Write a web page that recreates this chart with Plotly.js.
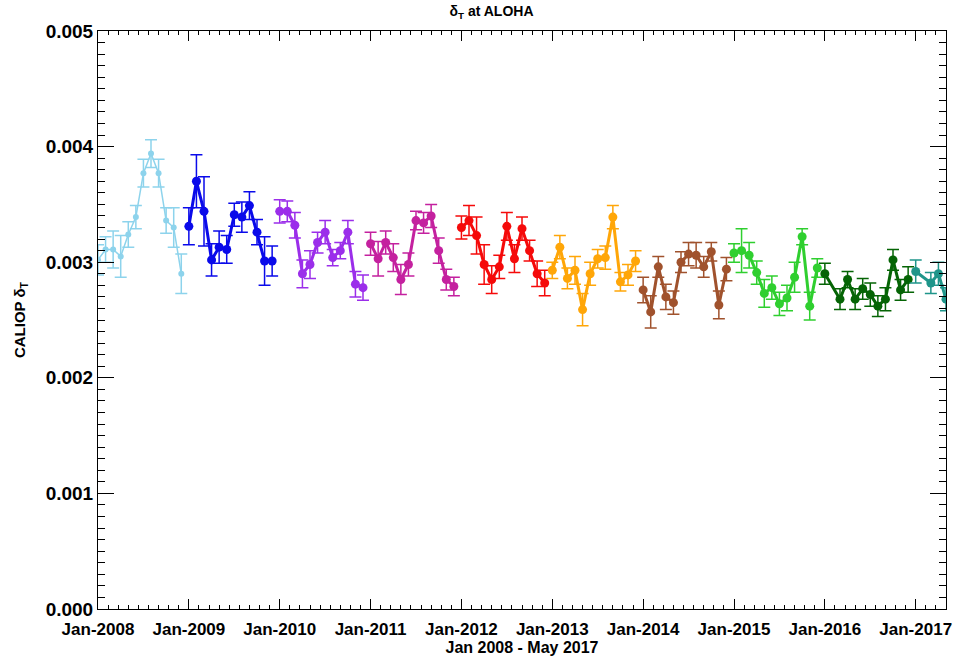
<!DOCTYPE html>
<html>
<head>
<meta charset="utf-8">
<script src="https://cdn.plot.ly/plotly-3.0.1.min.js"></script>
<style>html,body{margin:0;padding:0;background:#fff;}#chart{width:960px;height:660px;}</style>
</head>
<body>
<div id="chart"></div>
<script>
// Tick labels (one per January)
const tickLabels = ['Jan-2008','Jan-2009','Jan-2010','Jan-2011','Jan-2012','Jan-2013','Jan-2014','Jan-2015','Jan-2016','Jan-2017'];
const years = [2008, 2009, 2010, 2011, 2012, 2013, 2014, 2015, 2016, 2017];
const yearColors = ['#8dd3ec', '#0a0aea', '#9b2eea', '#c4219f', '#f50a0a', '#ffa608', '#a0522d', '#2fcf2f', '#056405', '#1f958a'];

// Monthly CALIOP delta_T values (null = no data)
const v2008 = [0.00302, 0.00311, 0.00311, 0.00305, 0.00324, 0.00339, 0.00377, 0.00394, 0.00377, 0.00336, 0.00330, 0.00290];
const v2009 = [0.00331, 0.00370, 0.00344, 0.00302, 0.00313, 0.00311, 0.00341, 0.00339, 0.00349, 0.00326, 0.00301, 0.00301];
const v2010 = [0.00344, 0.00344, 0.00332, 0.00290, 0.00298, 0.00317, 0.00326, 0.00304, 0.00310, 0.00326, 0.00281, 0.00278];
const v2011 = [0.00316, 0.00303, 0.00317, 0.00304, 0.00285, 0.00298, 0.00336, 0.00334, 0.00340, 0.00310, 0.00285, 0.00279];
const v2012 = [0.00330, 0.00336, 0.00323, 0.00298, 0.00285, 0.00296, 0.00331, 0.00303, 0.00329, 0.00310, 0.00290, 0.00282];
const v2013 = [0.00293, 0.00313, 0.00286, 0.00293, 0.00259, 0.00290, 0.00303, 0.00304, 0.00339, 0.00283, 0.00289, 0.00301];
const v2014 = [0.00276, 0.00257, 0.00296, 0.00270, 0.00265, 0.00300, 0.00307, 0.00306, 0.00296, 0.00309, 0.00263, 0.00294];
const v2015 = [0.00308, 0.00310, 0.00306, 0.00291, 0.00273, 0.00278, 0.00264, 0.00269, 0.00287, 0.00322, 0.00262, 0.00295];
const v2016 = [0.00290, null, 0.00268, 0.00285, 0.00268, 0.00277, 0.00272, 0.00262, 0.00268, 0.00302, 0.00276, 0.00285];
const v2017 = [0.00292, null, 0.00282, 0.00290, 0.00268];

// Error bar half-widths
const e2008 = [0.00013, 0.00011, 0.00016, 0.00018, 0.00011, 0.00010, 0.00012, 0.00012, 0.00012, 0.00011, 0.00017, 0.00017];
const e2009 = [0.00016, 0.00023, 0.00030, 0.00014, 0.00014, 0.00012, 0.00010, 0.00013, 0.00012, 0.00011, 0.00021, 0.00013];
const e2010 = [0.00010, 0.00009, 0.00011, 0.00012, 0.00012, 0.00009, 0.00010, 0.00007, 0.00007, 0.00010, 0.00011, 0.00011];
const e2011 = [0.00010, 0.00015, 0.00010, 0.00012, 0.00013, 0.00010, 0.00008, 0.00009, 0.00010, 0.00011, 0.00009, 0.00008];
const e2012 = [0.00010, 0.00013, 0.00016, 0.00017, 0.00012, 0.00010, 0.00012, 0.00012, 0.00010, 0.00009, 0.00011, 0.00011];
const e2013 = [0.00007, 0.00010, 0.00009, 0.00012, 0.00014, 0.00010, 0.00008, 0.00010, 0.00010, 0.00008, 0.00009, 0.00009];
const e2014 = [0.00011, 0.00014, 0.00009, 0.00011, 0.00010, 0.00009, 0.00010, 0.00011, 0.00009, 0.00008, 0.00012, 0.00010];
const e2015 = [0.00008, 0.00019, 0.00011, 0.00010, 0.00012, 0.00010, 0.00010, 0.00011, 0.00013, 0.00007, 0.00012, 0.00008];
const e2016 = [0.00009, null, 0.00009, 0.00007, 0.00009, 0.00009, 0.00010, 0.00009, 0.00010, 0.00009, 0.00009, 0.00011];
const e2017 = [0.00010, null, 0.00009, 0.00010, 0.00010];

const values = [v2008, v2009, v2010, v2011, v2012, v2013, v2014, v2015, v2016, v2017];
const errors = [e2008, e2009, e2010, e2011, e2012, e2013, e2014, e2015, e2016, e2017];

const traces = years.map((yr, k) => {
  const first = k === 0;
  const x = values[k].map((_, m) => k * 12 + m); // month index since Jan 2008
  return {
    type: 'scatter',
    mode: 'lines+markers',
    x: x,
    y: values[k],
    connectgaps: true,
    line: { color: yearColors[k], width: first ? 1.5 : 3 },
    marker: { color: yearColors[k], size: first ? 6 : 9 },
    error_y: { type: 'data', array: errors[k], visible: true, color: yearColors[k], thickness: 1.5, width: 6 },
    showlegend: false,
    hoverinfo: 'skip'
  };
});

const fnt = 'Liberation Sans, Arial, sans-serif';
const layout = {
  width: 960, height: 660,
  margin: { l: 98, r: 14, t: 31, b: 51 },
  paper_bgcolor: '#fff', plot_bgcolor: '#fff',
  title: { text: 'δ<sub>T</sub> at ALOHA', x: 0.512, xanchor: 'center', y: 0.99, yanchor: 'top',
           font: { family: fnt, size: 14, color: '#000', weight: 'bold' } },
  xaxis: {
    range: [0, 112],
    tickvals: tickLabels.map((_, i) => i * 12),
    ticktext: tickLabels,
    ticks: 'inside', ticklen: 10, tickwidth: 1, tickcolor: '#000',
    ticklabelstandoff: 5,
    minor: { dtick: 4 / 3, tick0: 0, ticks: 'inside', ticklen: 4, tickcolor: '#000', showgrid: false },
    showline: true, linecolor: '#000', linewidth: 1, mirror: 'allticks',
    showgrid: false, zeroline: false,
    tickfont: { family: fnt, size: 17, color: '#000', weight: 'bold' },
    title: { text: 'Jan 2008 - May 2017', standoff: 0, font: { family: fnt, size: 16, color: '#000', weight: 'bold' } }
  },
  yaxis: {
    range: [0, 0.005],
    tickvals: [0, 0.001, 0.002, 0.003, 0.004, 0.005],
    ticktext: ['0.000', '0.001', '0.002', '0.003', '0.004', '0.005'],
    ticks: 'inside', ticklen: 16, tickwidth: 1, tickcolor: '#000',
    minor: { dtick: 0.0001, ticks: 'inside', ticklen: 7, tickcolor: '#000', showgrid: false },
    showline: true, linecolor: '#000', linewidth: 1, mirror: 'allticks',
    showgrid: false, zeroline: false,
    tickfont: { family: fnt, size: 19, color: '#000', weight: 'bold' },
    title: { text: 'CALIOP δ<sub>T</sub>', standoff: 16, font: { family: fnt, size: 15, color: '#000', weight: 'bold' } }
  }
};

Plotly.newPlot('chart', traces, layout, { displayModeBar: false, staticPlot: true });
</script>
</body>
</html>
